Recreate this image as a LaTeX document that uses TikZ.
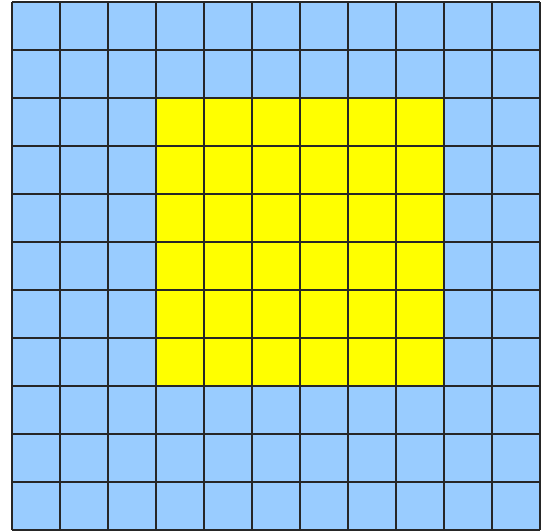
\documentclass[tikz,border=0pt]{standalone}
\definecolor{cellblue}{HTML}{99CCFF}
\definecolor{cellyellow}{HTML}{FFFF00}
\tikzset{cell/.style={line width=1.2pt, draw=black!85}}
\begin{document}
\begin{tikzpicture}
        \useasboundingbox (-0.25, -0.0208) rectangle (11.125, 11.0417);
        \fill[cellblue] (0, 0) rectangle (11, 11);
        \fill[cellyellow] (3, 3) rectangle (9, 9);
        \draw[cell] (0, 0) grid (11, 11);
\end{tikzpicture}
\end{document}
